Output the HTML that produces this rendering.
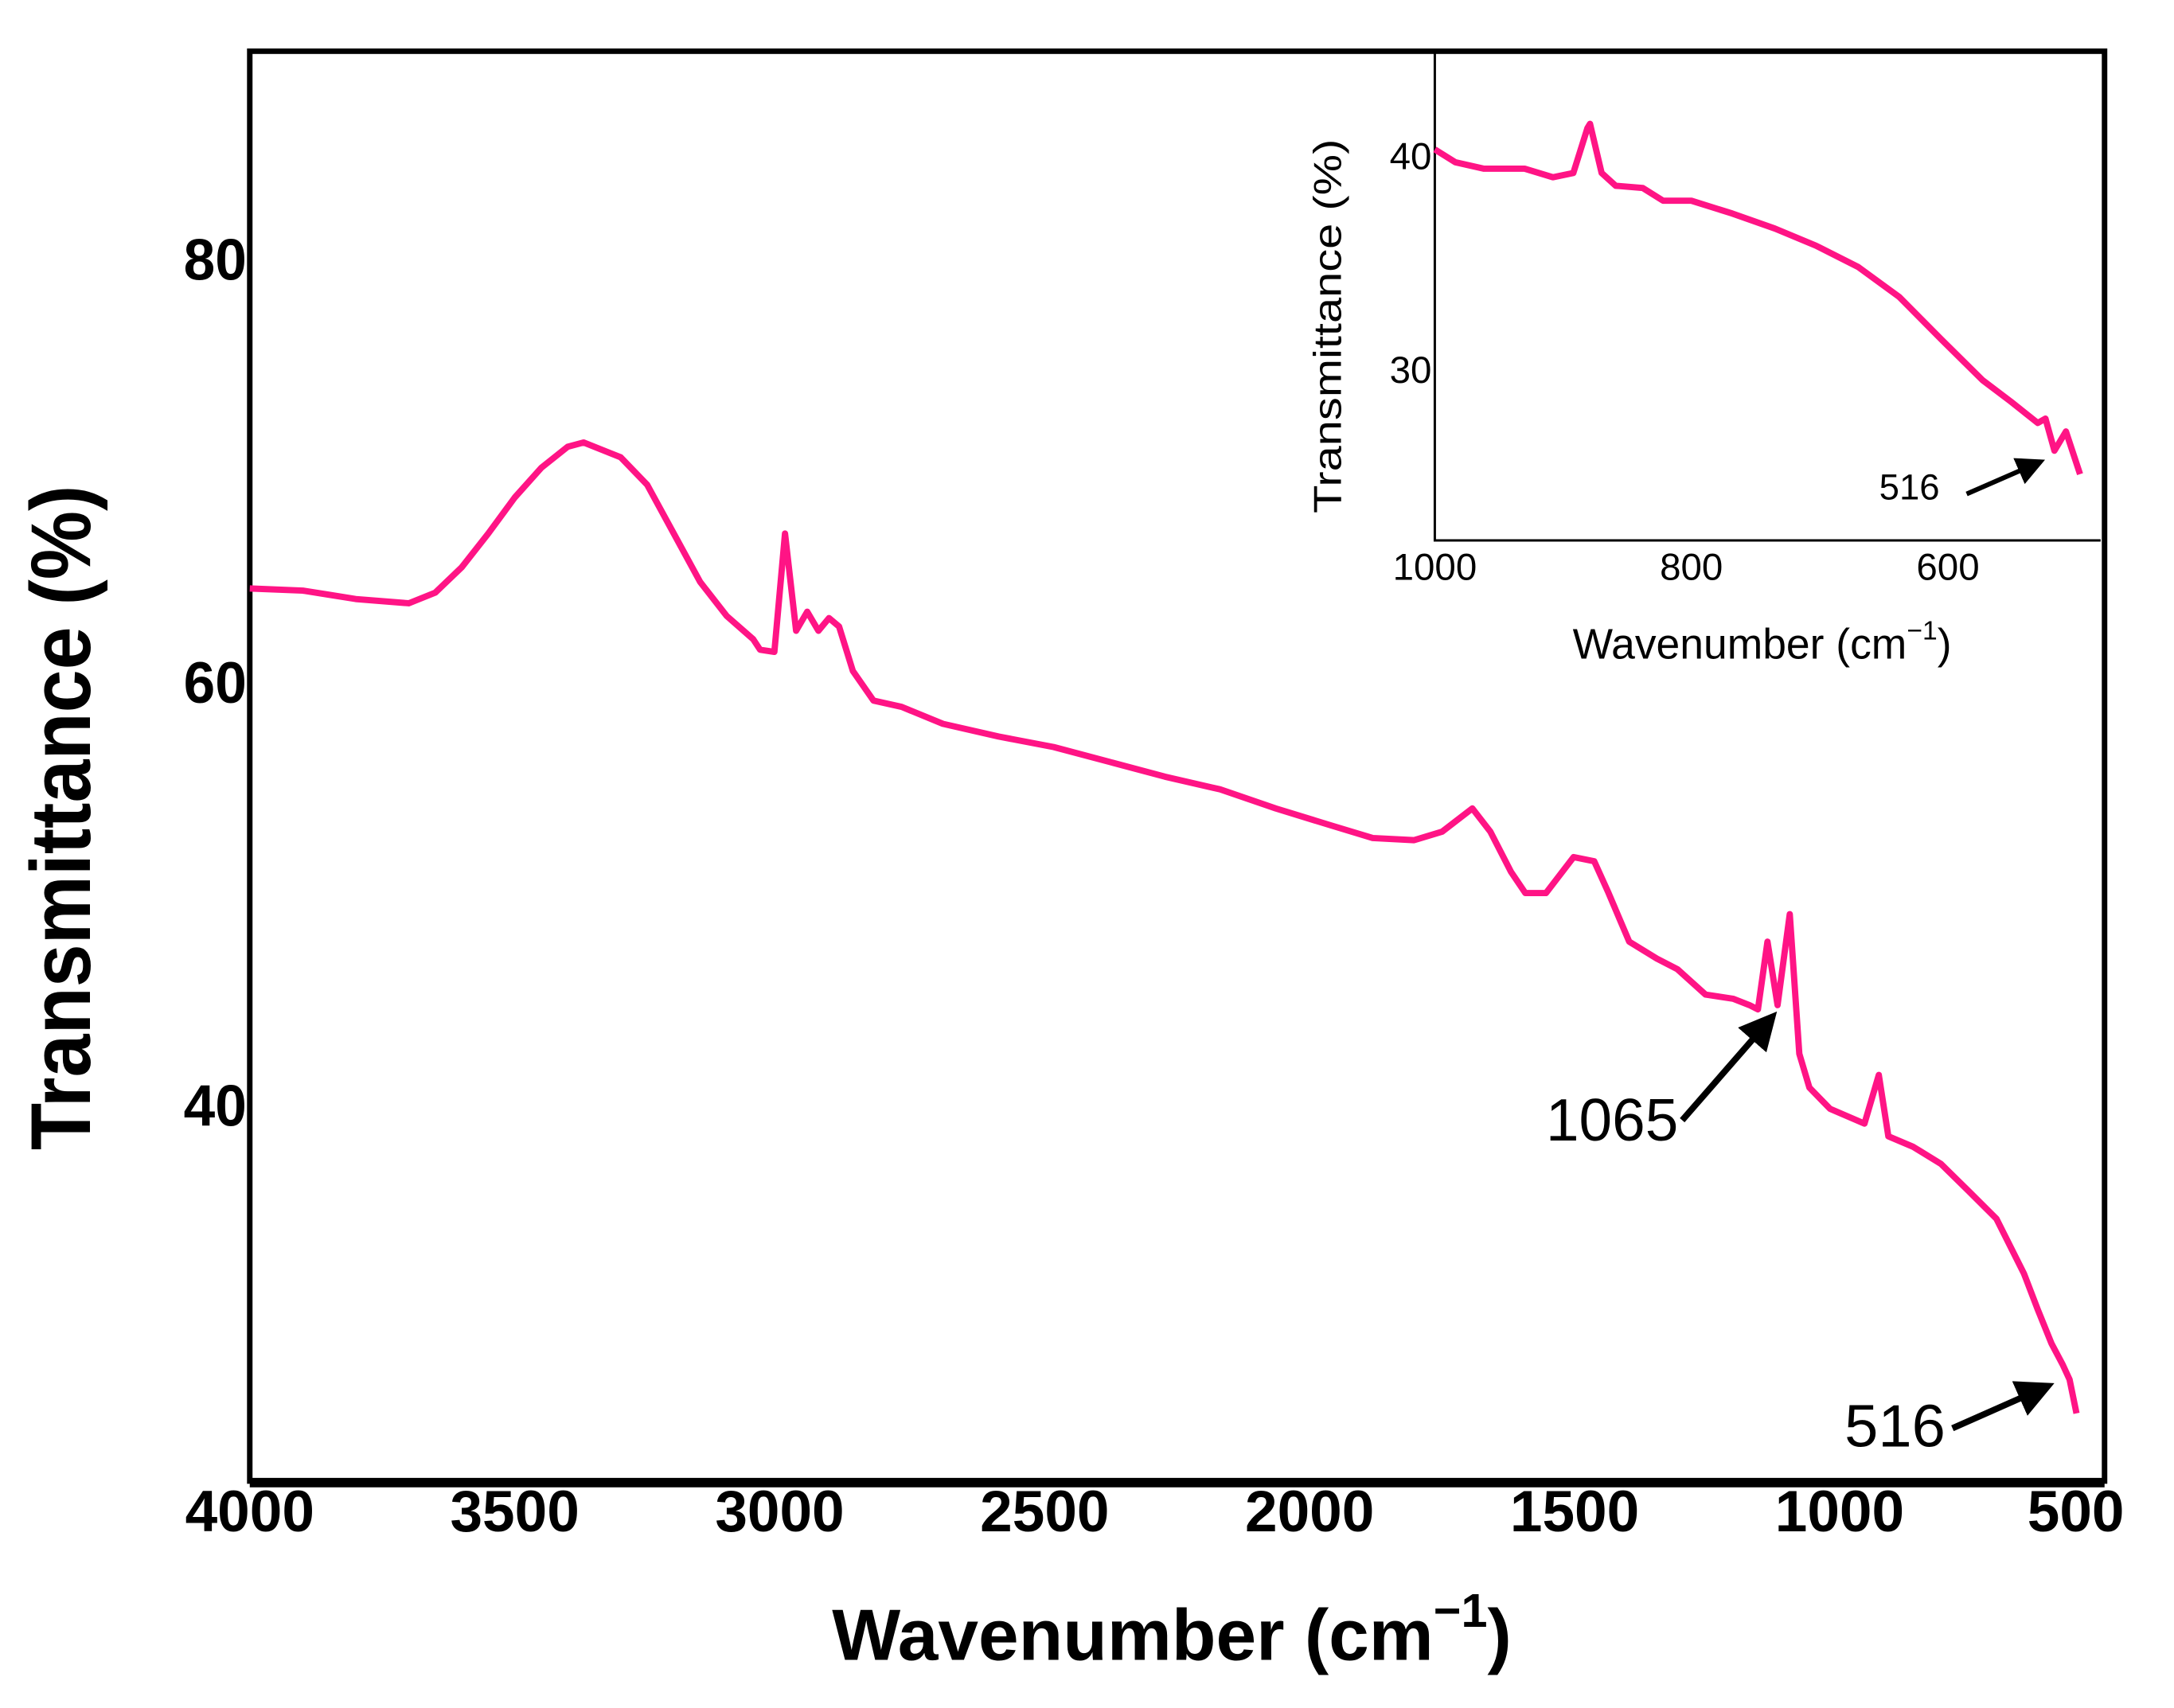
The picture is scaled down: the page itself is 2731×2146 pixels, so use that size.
<!DOCTYPE html>
<html><head><meta charset="utf-8"><style>
html,body{margin:0;padding:0;background:#fff}
svg{display:block}
text{font-family:"Liberation Sans",Arial,sans-serif}
</style></head><body>
<svg id="chart" width="2731" height="2146" viewBox="0 0 2731 2146" xmlns="http://www.w3.org/2000/svg">
<g transform="scale(0.9898)"><g id="main"></g><g id="inset"></g></g>
</svg>
<script>
const mainWave=[4000,3900,3850,3800,3700,3650,3600,3550,3500,3450,3400,3370,3300,3250,3200,3150,3100,3050,3037,3010,2990,2969,2948,2927,2907,2888,2862,2823,2770,2692,2587,2483,2378,2273,2169,2064,1960,1881,1803,1750,1693,1659,1620,1593,1554,1502,1463,1436,1397,1345,1306,1253,1201,1170,1154,1136,1117,1094,1076,1057,1018,953,926,908,861,809,756,704,652,626,600,579,566,553];
const mainT=[64.4,64.3,64.1,63.9,63.7,64.2,65.4,67.0,68.7,70.1,71.1,71.3,70.6,69.3,67.0,64.7,63.1,62.0,61.5,61.4,67.0,62.4,63.3,62.4,63.0,62.6,60.5,59.1,58.8,58.0,57.4,56.9,56.2,55.5,54.9,54.0,53.2,52.6,52.5,52.9,54.0,52.9,51.0,50.0,50.0,51.7,51.5,50.0,47.7,46.9,46.4,45.2,45.0,44.7,44.5,47.7,44.7,49.0,42.4,40.8,39.8,39.1,41.4,38.5,38.0,37.2,35.9,34.6,32.0,30.3,28.7,27.7,27.0,25.4];
const mainXTicks=[4000,3500,3000,2500,2000,1500,1000,500];
const mainYTicks=[40,60,80];
const insetWave=[1000,984,962,930,908,892,881,879,870,859,838,822,800,768,735,703,670,638,605,573,551,530,524,517,508,497];
const insetT=[40.3,39.7,39.4,39.4,39.0,39.2,41.3,41.5,39.2,38.6,38.5,37.9,37.9,37.3,36.6,35.8,34.8,33.4,31.4,29.5,28.5,27.5,27.7,26.2,27.1,25.1];
const insetXTicks=[1000,800,600];
const insetYTicks=[30,40];

const NS='http://www.w3.org/2000/svg';
function mk(parent,tag,attrs,txt){const e=document.createElementNS(NS,tag);for(const k in attrs)e.setAttribute(k,attrs[k]);if(txt!==undefined)e.textContent=txt;parent.appendChild(e);return e;}

const M={l:317,r:2671,t:65,b:1880,x0:4000,x1:500,y0:22.2,y1:89.8};
const mx=w=>M.l+(M.x0-w)/(M.x0-M.x1)*(M.r-M.l);
const my=v=>M.b-(v-M.y0)/(M.y1-M.y0)*(M.b-M.t);
const gm=document.getElementById('main');
let e=mk(gm,'rect',{x:M.l,y:M.t,width:M.r-M.l,height:M.b-M.t,fill:'none',stroke:'#000','stroke-width':7});

e=mk(gm,'line',{x1:M.l,y1:M.b+2,x2:M.r,y2:M.b+2,stroke:'#000','stroke-width':12});

mainXTicks.forEach(t=>{const s=String(t);const w=s.length*41;
let cx=mx(t); if(cx+w/2>2696) cx=2696-w/2;
const el=mk(gm,'text',{x:cx,y:1944,'text-anchor':'middle','font-size':74,'font-weight':'bold',textLength:w,lengthAdjust:'spacingAndGlyphs'},s);
});
mainYTicks.forEach(t=>{const el=mk(gm,'text',{x:313,y:my(t)+27,'text-anchor':'end','font-size':74,'font-weight':'bold',textLength:80,lengthAdjust:'spacingAndGlyphs'},String(t));
});
e=mk(gm,'text',{transform:'translate(114,1038) rotate(-90)','text-anchor':'middle','font-size':108,'font-weight':'bold',textLength:844,lengthAdjust:'spacingAndGlyphs'},'Transmittance (%)');

e=mk(gm,'text',{x:1056,y:2107,'font-size':92,'font-weight':'bold'});

mk(e,'tspan',{},'Wavenumber (cm');mk(e,'tspan',{dy:-42,'font-size':60},'−1');mk(e,'tspan',{dy:42},')');
let d=mainWave.map((w,i)=>(i?'L':'M')+mx(w).toFixed(1)+','+my(mainT[i]).toFixed(1)).join('');
e=mk(gm,'path',{d:d,fill:'none',stroke:'#ff1485','stroke-width':8,'stroke-linejoin':'round'});

mk(gm,'defs',{}).innerHTML='<marker id="ah" markerWidth="6" markerHeight="6" refX="5" refY="3" orient="auto" markerUnits="strokeWidth"><path d="M0,0L6,3L0,6z" fill="#000"/></marker>';
e=mk(gm,'text',{x:1962,y:1448,'font-size':76,textLength:168,lengthAdjust:'spacingAndGlyphs'},'1065');

e=mk(gm,'line',{x1:2135,y1:1422,x2:2250,y2:1290,stroke:'#000','stroke-width':8,'marker-end':'url(#ah)'});

e=mk(gm,'text',{x:2341,y:1836,'font-size':76,textLength:128,lengthAdjust:'spacingAndGlyphs'},'516');

e=mk(gm,'line',{x1:2478,y1:1813,x2:2600,y2:1759,stroke:'#000','stroke-width':8,'marker-end':'url(#ah)'});


const I={l:1821,r:2666,t:65,b:686,x0:1000,x1:481,y0:22.0,y1:44.9};
const ix=w=>I.l+(I.x0-w)/(I.x0-I.x1)*(I.r-I.l);
const iy=v=>I.b-(v-I.y0)/(I.y1-I.y0)*(I.b-I.t);
const gi=document.getElementById('inset');
e=mk(gi,'path',{d:`M${I.l},${I.t}L${I.l},${I.b}L${I.r},${I.b}`,fill:'none',stroke:'#000','stroke-width':3});

insetXTicks.forEach(t=>{const el=mk(gi,'text',{x:ix(t),y:736,'text-anchor':'middle','font-size':48},String(t));
});
insetYTicks.forEach(t=>{const el=mk(gi,'text',{x:1817,y:iy(t)+17,'text-anchor':'end','font-size':48},String(t));
});
e=mk(gi,'text',{transform:'translate(1702,414) rotate(-90)','text-anchor':'middle','font-size':50,textLength:475,lengthAdjust:'spacingAndGlyphs'},'Transmittance (%)');

e=mk(gi,'text',{x:1996,y:836,'font-size':54});

mk(e,'tspan',{},'Wavenumber (cm');mk(e,'tspan',{dy:-24,'font-size':34},'−1');mk(e,'tspan',{dy:24},')');
d=insetWave.map((w,i)=>(i?'L':'M')+ix(w).toFixed(1)+','+iy(insetT[i]).toFixed(1)).join('');
e=mk(gi,'path',{d:d,fill:'none',stroke:'#ff1485','stroke-width':8,'stroke-linejoin':'round'});

e=mk(gi,'text',{x:2385,y:634,'font-size':46},'516');

e=mk(gi,'line',{x1:2496,y1:627,x2:2590,y2:586,stroke:'#000','stroke-width':6,'marker-end':'url(#ah)'});

</script>
</body></html>
